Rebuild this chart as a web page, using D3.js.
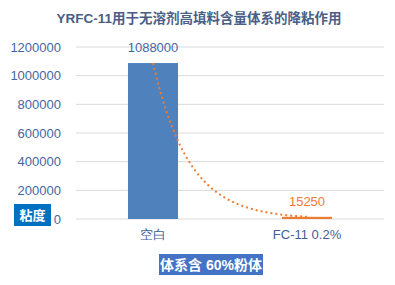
<!DOCTYPE html>
<html>
<head>
<meta charset="utf-8">
<script src="https://cdn.jsdelivr.net/npm/d3@7"></script>
<style>
  body { margin: 0; background: #fff; }
  svg { font-family: "Liberation Sans", "Noto Sans CJK SC", sans-serif; }
</style>
</head>
<body>
<svg width="395" height="285"></svg>
<script>
var categories = ['空白', 'FC-11 0.2%'];
var viscosity = [1088000, 15250];
var barColors = ['#4f81bd', '#ed7d31'];
var labelColors = ['#44679f', '#ed7d31'];
var yTicks = [0, 200000, 400000, 600000, 800000, 1000000, 1200000];

var svg = d3.select('svg');
var plotLeft = 76, plotRight = 384, plotTop = 47, plotBottom = 219;
var textColor = '#44679f';

var x = d3.scaleBand()
  .domain(categories)
  .range([plotLeft, plotRight])
  .paddingInner(0.675)
  .paddingOuter(0.3375);

var y = d3.scaleLinear()
  .domain([0, 1200000])
  .range([plotBottom, plotTop]);

// title
svg.append('text')
  .attr('x', 199)
  .attr('y', 23)
  .attr('text-anchor', 'middle')
  .attr('font-size', 13.5)
  .attr('font-weight', 'bold')
  .attr('fill', '#4a5e86')
  .text('YRFC-11用于无溶剂高填料含量体系的降粘作用');

// gridlines
svg.selectAll('.grid').data(yTicks).enter().append('line')
  .attr('class', 'grid')
  .attr('x1', plotLeft)
  .attr('x2', plotRight)
  .attr('y1', function(d) { return y(d); })
  .attr('y2', function(d) { return y(d); })
  .attr('stroke', '#d9d9d9')
  .attr('stroke-width', 1);

// y axis labels
var yAxis = d3.axisLeft(y).tickValues(yTicks).tickSize(0).tickPadding(15)
  .tickFormat(function(d) { return String(d); });
var ya = svg.append('g').attr('transform', 'translate(' + plotLeft + ',0)').call(yAxis);
ya.select('.domain').remove();
ya.selectAll('text')
  .attr('font-size', 13)
  .attr('font-family', '"Liberation Sans", sans-serif')
  .attr('fill', textColor);

// bars
svg.selectAll('.bar').data(viscosity).enter().append('rect')
  .attr('class', 'bar')
  .attr('x', function(d, i) { return x(categories[i]); })
  .attr('y', function(d) { return y(d); })
  .attr('width', x.bandwidth())
  .attr('height', function(d) { return y(0) - y(d); })
  .attr('fill', function(d, i) { return barColors[i]; });

// exponential trendline through the two bars
var trend = [];
var ratio = viscosity[1] / viscosity[0];
for (var t = 0; t <= 40; t++) {
  var f = t / 40;
  var cx = x(categories[0]) + x.bandwidth() / 2 + f * (x(categories[1]) - x(categories[0]));
  trend.push([cx, y(viscosity[0] * Math.pow(ratio, f))]);
}
svg.append('path')
  .attr('d', d3.line()(trend))
  .attr('fill', 'none')
  .attr('stroke', '#ed7d31')
  .attr('stroke-width', 2)
  .attr('stroke-dasharray', '2 3');

// value labels
svg.selectAll('.val').data(viscosity).enter().append('text')
  .attr('class', 'val')
  .attr('x', function(d, i) { return x(categories[i]) + x.bandwidth() / 2; })
  .attr('y', function(d) { return y(d) - 11; })
  .attr('text-anchor', 'middle')
  .attr('font-size', 13)
  .attr('fill', function(d, i) { return labelColors[i]; })
  .text(function(d) { return d; });

// category labels
var xAxis = d3.axisBottom(x).tickSize(0).tickPadding(11);
var xa = svg.append('g').attr('transform', 'translate(0,' + plotBottom + ')').call(xAxis);
xa.select('.domain').remove();
xa.selectAll('text')
  .attr('font-size', 13)
  .attr('fill', '#3f5f96');

// y axis title box
svg.append('rect')
  .attr('x', 14).attr('y', 204).attr('width', 37).attr('height', 22)
  .attr('fill', '#0070c0');
svg.append('text')
  .attr('x', 32.5).attr('y', 220)
  .attr('text-anchor', 'middle')
  .attr('font-size', 13).attr('font-weight', 'bold')
  .attr('fill', '#fff')
  .text('粘度');

// x axis title box
svg.append('rect')
  .attr('x', 159).attr('y', 254).attr('width', 104).attr('height', 21)
  .attr('fill', '#4472c4');
svg.append('text')
  .attr('x', 211).attr('y', 270)
  .attr('text-anchor', 'middle')
  .attr('font-size', 14).attr('font-weight', 'bold')
  .attr('fill', '#fff')
  .text('体系含 60%粉体');
</script>
</body>
</html>
